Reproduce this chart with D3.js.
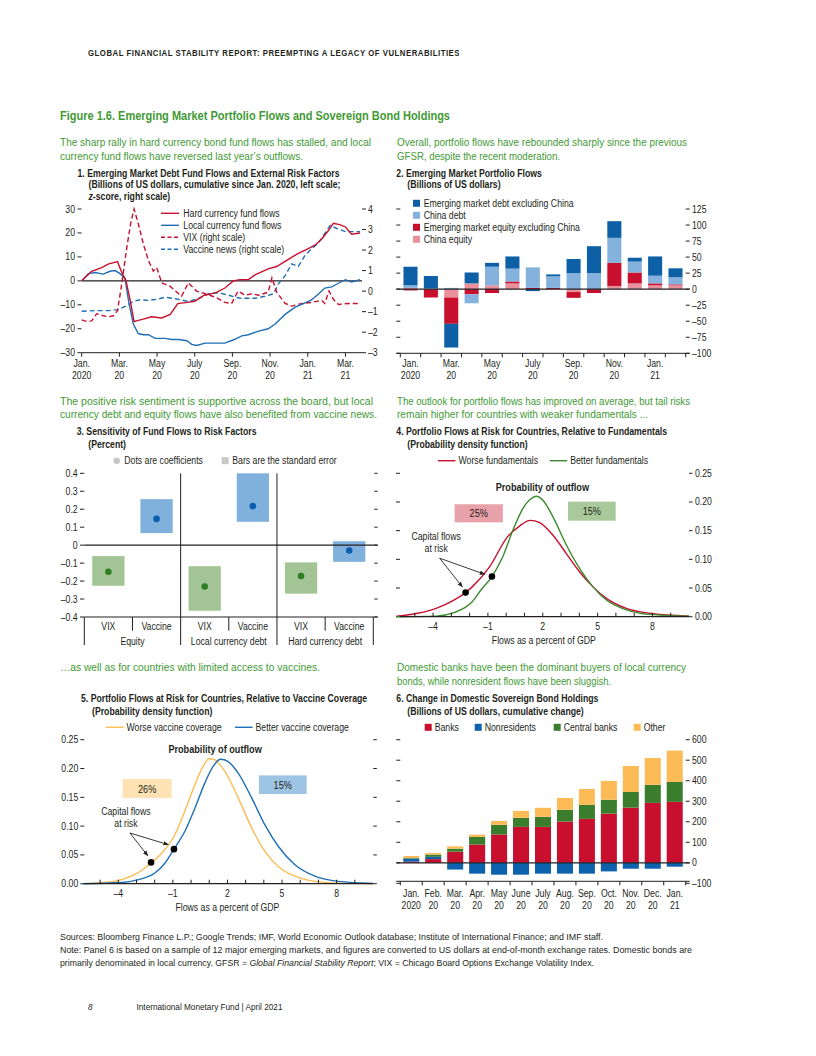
<!DOCTYPE html>
<html>
<head>
<meta charset="utf-8">
<script src="https://cdn.jsdelivr.net/npm/d3@7"></script>
<style>
  body { margin: 0; background: #fff; }
  svg text { font-family: "Liberation Sans", Arial, sans-serif; fill: #231f20; }
</style>
</head>
<body>
<svg id="page" width="816" height="1056"></svg>
<script>
// ---- panel 1: cumulative fund flows (months since Jan. 2020, value)
var hardCurrency = [[0,0],[0.53,4],[1.06,5.5],[1.4,7],[1.9,8],[2.1,4],[2.35,0],[2.57,-8],[2.78,-17],[3.0,-16.5],[3.27,-16],[3.7,-15],[4.25,-15.5],[4.7,-14],[5.1,-9.5],[5.6,-9],[6.0,-8.5],[6.5,-6],[7.1,-5],[7.6,-3],[8.05,0],[8.4,0.5],[8.85,0.5],[9.2,2.5],[9.9,5],[10.35,6],[10.97,9],[11.5,11.5],[12.03,13.5],[12.4,15],[12.74,17.5],[13.1,21],[13.36,24],[13.7,23.5],[14.0,22.5],[14.33,19.5],[14.78,20]];
var localCurrency = [[0,0],[0.35,3],[0.7,3.5],[1.15,2.8],[1.5,4],[1.77,4.3],[2.04,3],[2.3,1],[2.5,-9],[2.74,-18],[3.0,-22],[3.27,-22.5],[3.54,-22.5],[3.9,-24],[4.42,-24],[4.78,-24.5],[5.13,-24.5],[5.58,-25],[5.84,-26.5],[6.1,-27],[6.55,-26],[7.1,-26],[7.6,-26],[8.1,-24.5],[8.5,-23],[8.85,-22.5],[9.4,-21],[9.9,-20],[10.27,-18],[10.8,-14],[11.33,-11],[11.77,-9.5],[12.2,-8],[12.57,-5.5],[12.9,-3],[13.27,-2.5],[13.63,-1],[14.0,0.5],[14.33,-0.5],[14.78,0.5]];
var vixScore = [[0,-1.4],[0.27,-1.48],[0.53,-1.45],[0.8,-1.1],[1.15,-1.2],[1.42,-1.25],[1.68,-1.2],[1.9,-0.95],[2.1,0.2],[2.4,2.15],[2.6,3.3],[2.78,4.0],[3.0,3.3],[3.27,2.3],[3.54,1.5],[3.8,0.98],[3.98,1.15],[4.25,0.4],[4.7,0.23],[5.3,-0.25],[5.66,0.4],[6.1,0],[6.55,-0.13],[7.1,-0.3],[7.6,-0.55],[7.96,-0.6],[8.3,0],[8.67,-0.2],[9.03,-0.13],[9.4,-0.2],[9.9,-0.05],[10.1,0.65],[10.35,-0.05],[10.8,-0.6],[11.15,-0.73],[11.7,-0.6],[12.2,-0.55],[12.74,-0.45],[12.9,-0.6],[13.13,0],[13.36,-0.4],[13.63,-0.65],[14.16,-0.6],[14.78,-0.6]];
var vaccineNews = [[0,-0.98],[0.7,-0.95],[1.42,-0.95],[1.95,-0.9],[2.4,-0.7],[2.74,-0.5],[3.1,-0.42],[3.54,-0.45],[3.98,-0.4],[4.42,-0.3],[4.96,-0.37],[5.66,-0.5],[6.2,-0.37],[6.73,-0.13],[7.26,-0.08],[7.8,-0.2],[8.4,-0.35],[9.2,-0.35],[9.73,-0.25],[10.18,-0.13],[10.44,0.35],[10.8,0.75],[11.15,1.33],[11.5,1.2],[11.86,1.75],[12.2,2.05],[12.57,2.35],[12.9,2.8],[13.19,3.2],[13.54,3.05],[14.0,2.9],[14.78,2.9]];
var p1TickLabels = [['Jan.','2020'],['Mar.','20'],['May','20'],['July','20'],['Sep.','20'],['Nov.','20'],['Jan.','21'],['Mar.','21']];

// ---- panel 2: monthly portfolio flows, billions of US dollars
var p2Months = ['2020-01','2020-02','2020-03','2020-04','2020-05','2020-06','2020-07','2020-08','2020-09','2020-10','2020-11','2020-12','2021-01','2021-02'];
var emDebt      = [29, 19, -37, 17, 6, 19, -3, 3, 22, 42, 26, 6, 30, 14];
var chinaDebt   = [4, 1.5, 2, -14, 29, 20, 32, 18, 25, 25, 39, 17, 12, 11];
var emEquity    = [-2, -13, -41, -8, -6, 3, 2, 2, -9, -6, 36, 17, 3, 1.5];
var chinaEquity = [2, 0, -13, 9, 6, 9, 0, 0, -4.5, 0, 5, 9, 6, 6];
var p2TickLabels = [['Jan.','2020'],null,['Mar.','20'],null,['May','20'],null,['July','20'],null,['Sep.','20'],null,['Nov.','20'],null,['Jan.','21'],null];

// ---- panel 3: sensitivity coefficients and standard error bands
var p3Factors = ['VIX','Vaccine','VIX','Vaccine','VIX','Vaccine'];
var p3Groups  = ['Equity','Local currency debt','Hard currency debt'];
var p3Coef = [-0.148, 0.146, -0.23, 0.217, -0.172, -0.03];
var p3Low  = [-0.226, 0.067, -0.365, 0.13, -0.27, -0.093];
var p3High = [-0.061, 0.256, -0.117, 0.40, -0.096, 0.022];

// ---- panel 4 / 5: densities (flows in percent of GDP, density)
var worseFundamentals = [[-6,0.001],[-4.83,0.006],[-3.83,0.0145],[-2.86,0.029],[-2.22,0.042],[-1.86,0.052],[-0.91,0.087],[0.09,0.14],[0.73,0.158],[1.32,0.168],[1.83,0.164],[2.56,0.142],[3.29,0.11],[4.02,0.078],[4.75,0.052],[5.48,0.032],[6.57,0.0145],[7.85,0.006],[10,0.001]];
var betterFundamentals = [[-6,0],[-3.83,0.001],[-2.86,0.007],[-1.86,0.026],[-1.37,0.047],[-0.78,0.07],[-0.18,0.105],[0.37,0.151],[0.92,0.189],[1.37,0.206],[1.65,0.21],[2.01,0.203],[2.56,0.174],[3.29,0.125],[4.02,0.084],[4.75,0.052],[5.48,0.029],[6.57,0.012],[7.85,0.004],[10,0.001]];
var fundamentalsAtRisk = [[-2.22,0.042],[-0.78,0.07]];
var fundamentalsOutflow = ['25%','15%'];

var worseVaccine = [[-6,0],[-4.73,0.002],[-3.82,0.007],[-3.08,0.016],[-2.2,0.036],[-1.62,0.053],[-0.94,0.082],[-0.34,0.126],[0.21,0.172],[0.67,0.204],[0.98,0.217],[1.31,0.215],[1.86,0.195],[2.59,0.149],[3.33,0.097],[4.06,0.056],[4.79,0.03],[5.71,0.013],[6.81,0.004],[8.09,0.001],[10,0]];
var betterVaccine = [[-6,0],[-3.82,0.002],[-2.9,0.007],[-1.99,0.0185],[-1.45,0.035],[-0.94,0.06],[-0.34,0.091],[0.21,0.131],[0.76,0.175],[1.22,0.204],[1.62,0.216],[2.04,0.212],[2.59,0.192],[3.33,0.149],[4.06,0.102],[4.79,0.065],[5.71,0.033],[6.81,0.013],[8.09,0.004],[10,0.0006]];
var vaccineAtRisk = [[-2.2,0.037],[-0.94,0.06]];
var vaccineOutflow = ['26%','15%'];
var pdfTicks = [-4, -1, 2, 5, 8];

// ---- panel 6: cumulative change in holdings, billions of US dollars
var p6Months = ['2020-01','2020-02','2020-03','2020-04','2020-05','2020-06','2020-07','2020-08','2020-09','2020-10','2020-11','2020-12','2021-01'];
var banks        = [6, 18, 54, 89, 138, 175, 175, 201, 214, 240, 269, 292, 297];
var nonresidents = [15, 11, -33, -53, -58, -58, -53, -53, -53, -42, -29, -29, -19];
var centralBanks = [2, 11, 15, 37, 47, 44, 49, 57, 68, 67, 76, 88, 97];
var other        = [10, 8, 11, 11, 19, 34, 44, 58, 78, 92, 127, 131, 153];
var p6TickLabels = [['Jan.','2020'],['Feb.','20'],['Mar.','20'],['Apr.','20'],['May','20'],['June','20'],['July','20'],['Aug.','20'],['Sep.','20'],['Oct.','20'],['Nov.','20'],['Dec.','20'],['Jan.','21']];

var RED = '#c8102e', BLUE = '#1f6fb5', GREEN_TXT = '#3f9a35';
var COND = 0.87; // squeeze the sans font towards the condensed face of the original
var svg = d3.select('#page');
svg.append('rect').attr('width', 816).attr('height', 1056).attr('fill', '#fff');

function label(g, x, y, s, size, opts) {
    opts = opts || {};
    var t = g.append('text')
        .attr('x', x).attr('y', y)
        .attr('font-size', size)
        .attr('text-anchor', opts.anchor || 'start')
        .text(s);
    if (opts.bold) t.attr('font-weight', 'bold');
    if (opts.fill) t.style('fill', opts.fill);
    if (opts.len) t.attr('textLength', opts.len).attr('lengthAdjust', 'spacingAndGlyphs');
    if (opts.italic) t.attr('font-style', 'italic');
    return t;
}
function hline(g, x1, x2, y, color, w) {
    g.append('line').attr('x1', x1).attr('x2', x2).attr('y1', y).attr('y2', y)
        .attr('stroke', color || '#231f20').attr('stroke-width', w || 1);
}
function vline(g, x, y1, y2, color, w) {
    g.append('line').attr('x1', x).attr('x2', x).attr('y1', y1).attr('y2', y2)
        .attr('stroke', color || '#231f20').attr('stroke-width', w || 1);
}
function fmtMinus(v, digits) {
    var s = digits ? Math.abs(v).toFixed(digits) : String(Math.abs(v));
    return (v < 0 ? '\u2013' : '') + s;
}

svg.append('defs').append('marker')
    .attr('id', 'arrow').attr('viewBox', '0 0 10 10')
    .attr('refX', 9).attr('refY', 5)
    .attr('markerWidth', 6).attr('markerHeight', 6)
    .attr('orient', 'auto')
  .append('path').attr('d', 'M0,1 L10,5 L0,9 Z').attr('fill', '#231f20');

// ---- page header and text
label(svg, 88, 56, 'GLOBAL FINANCIAL STABILITY REPORT: PREEMPTING A LEGACY OF VULNERABILITIES', 9, { bold: true, len: 372 })
    .attr('letter-spacing', 0.6);
label(svg, 60, 119.5, 'Figure 1.6. Emerging Market Portfolio Flows and Sovereign Bond Holdings', 13.5, { bold: true, fill: GREEN_TXT, len: 390 });

var intro = [
    [60, 146, 'The sharp rally in hard currency bond fund flows has stalled, and local', 311],
    [60, 160, 'currency fund flows have reversed last year\u2019s outflows.', 243],
    [397, 146, 'Overall, portfolio flows have rebounded sharply since the previous', 290],
    [397, 160, 'GFSR, despite the recent moderation.', 163],
    [60, 405, 'The positive risk sentiment is supportive across the board, but local', 313],
    [60, 418, 'currency debt and equity flows have also benefited from vaccine news.', 317],
    [397, 405, 'The outlook for portfolio flows has improved on average, but tail risks', 293],
    [397, 418, 'remain higher for countries with weaker fundamentals ...', 251],
    [60, 671, '\u2026as well as for countries with limited access to vaccines.', 260],
    [397, 671, 'Domestic banks have been the dominant buyers of local currency', 289],
    [397, 685, 'bonds, while nonresident flows have been sluggish.', 214]
];
intro.forEach(function(d) { label(svg, d[0], d[1], d[2], 11, { fill: GREEN_TXT, len: d[3] }); });

// ================= Panel 1 =================
(function() {
    var g = svg.append('g');
    label(g, 77.5, 176.5, '1. Emerging Market Debt Fund Flows and External Risk Factors', 10, { bold: true });
    label(g, 88.5, 188, '(Billions of US dollars, cumulative since Jan. 2020, left scale;', 10, { bold: true });
    var t3 = label(g, 88.5, 199.5, '', 10, { bold: true });
    t3.append('tspan').attr('font-style', 'italic').text('z');
    t3.append('tspan').text('-score, right scale)');

    var x = d3.scaleLinear().domain([0, 14.88]).range([81.7, 362]);
    var yL = d3.scaleLinear().domain([-30, 30]).range([352.7, 209]);
    var yR = d3.scaleLinear().domain([-3, 4]).range([352.7, 209]);

    d3.range(-30, 31, 10).forEach(function(v) {
        hline(g, 77.5, 81.5, yL(v));
        label(g, 75, yL(v) + 3.5, fmtMinus(v), 10, { anchor: 'end' });
    });
    d3.range(-3, 5).forEach(function(v) {
        hline(g, 362, 366, yR(v));
        label(g, 368, yR(v) + 3.5, fmtMinus(v), 10);
    });
    hline(g, 81.7, 362, 352.7);
    p1TickLabels.forEach(function(l, i) {
        var xx = x(i * 2);
        vline(g, xx, 352.7, 356.7);
        label(g, xx, 366.5, l[0], 10, { anchor: 'middle' });
        label(g, xx, 378.5, l[1], 10, { anchor: 'middle' });
    });
    hline(g, 81.7, 362, yL(0), '#231f20', 1.2);

    var lineL = d3.line().x(function(d) { return x(d[0]); }).y(function(d) { return yL(d[1]); });
    var lineR = d3.line().x(function(d) { return x(d[0]); }).y(function(d) { return yR(d[1]); });
    var series = [
        { data: vaccineNews, line: lineR, color: BLUE, dash: '5,3' },
        { data: vixScore, line: lineR, color: RED, dash: '5,3' },
        { data: localCurrency, line: lineL, color: BLUE, dash: null },
        { data: hardCurrency, line: lineL, color: RED, dash: null }
    ];
    series.forEach(function(s) {
        g.append('path').attr('d', s.line(s.data))
            .attr('fill', 'none').attr('stroke', s.color).attr('stroke-width', 1.4)
            .attr('stroke-dasharray', s.dash);
    });

    var legend = [
        ['Hard currency fund flows', RED, null],
        ['Local currency fund flows', BLUE, null],
        ['VIX (right scale)', RED, '4,2.5'],
        ['Vaccine news (right scale)', BLUE, '4,2.5']
    ];
    legend.forEach(function(l, i) {
        var yy = 213.3 + i * 12;
        g.append('line').attr('x1', 161).attr('x2', 179).attr('y1', yy).attr('y2', yy)
            .attr('stroke', l[1]).attr('stroke-width', 1.4).attr('stroke-dasharray', l[2]);
        label(g, 183.3, yy + 3.5, l[0], 10);
    });
})();

// ================= Panel 2 =================
(function() {
    var g = svg.append('g');
    label(g, 396.3, 176.5, '2. Emerging Market Portfolio Flows', 10, { bold: true });
    label(g, 407.3, 188, '(Billions of US dollars)', 10, { bold: true });

    var x = d3.scaleBand().domain(p2Months).range([400.3, 685.7]).paddingInner(0.31).paddingOuter(0.155);
    var y = d3.scaleLinear().domain([-100, 125]).range([353.3, 209]);

    d3.range(-100, 126, 25).forEach(function(v) {
        hline(g, 396.3, 400.3, y(v));
        hline(g, 685.7, 689.7, y(v));
        label(g, 692, y(v) + 3.5, fmtMinus(v), 10);
    });

    var keys = ['chinaEquity', 'emEquity', 'chinaDebt', 'emDebt'];
    var colors = { chinaEquity: '#e8909c', emEquity: RED, chinaDebt: '#84b2dc', emDebt: '#0d5fa6' };
    var rows = p2Months.map(function(m, i) {
        return { month: m, emDebt: emDebt[i], chinaDebt: chinaDebt[i], emEquity: emEquity[i], chinaEquity: chinaEquity[i] };
    });
    var stack = d3.stack().keys(keys).offset(d3.stackOffsetDiverging)(rows);
    g.selectAll('g.layer').data(stack).enter().append('g')
        .attr('fill', function(d) { return colors[d.key]; })
      .selectAll('rect').data(function(d) { return d; }).enter().append('rect')
        .attr('x', function(d) { return x(d.data.month); })
        .attr('width', x.bandwidth())
        .attr('y', function(d) { return y(Math.max(d[0], d[1])); })
        .attr('height', function(d) { return Math.abs(y(d[0]) - y(d[1])); });

    hline(g, 396.3, 689.7, y(0), '#231f20', 1.2);
    hline(g, 396.3, 689.7, y(-100));
    var step = x.step();
    d3.range(0, p2Months.length + 1).forEach(function(i) {
        vline(g, 400.3 + i * step, y(-100), y(-100) + 4);
    });
    p2TickLabels.forEach(function(l, i) {
        if (!l) return;
        var xx = x(p2Months[i]) + x.bandwidth() / 2;
        label(g, xx, 366.5, l[0], 10, { anchor: 'middle' });
        label(g, xx, 378.5, l[1], 10, { anchor: 'middle' });
    });

    var legend = [
        ['Emerging market debt excluding China', colors.emDebt],
        ['China debt', colors.chinaDebt],
        ['Emerging market equity excluding China', colors.emEquity],
        ['China equity', colors.chinaEquity]
    ];
    legend.forEach(function(l, i) {
        var yy = 203.3 + i * 12;
        g.append('rect').attr('x', 413).attr('y', yy - 3.5).attr('width', 7).attr('height', 7).attr('fill', l[1]);
        label(g, 423.7, yy + 3.5, l[0], 10);
    });
})();

// ================= Panel 3 =================
(function() {
    var g = svg.append('g');
    label(g, 76.7, 435, '3. Sensitivity of Fund Flows to Risk Factors', 10, { bold: true });
    label(g, 88.3, 447.5, '(Percent)', 10, { bold: true });

    g.append('circle').attr('cx', 116.7).attr('cy', 460.7).attr('r', 3.3).attr('fill', '#c8c8c8');
    label(g, 124.3, 464.2, 'Dots are coefficients', 10);
    g.append('rect').attr('x', 221.7).attr('y', 457.2).attr('width', 7).attr('height', 7).attr('fill', '#c8c8c8');
    label(g, 232.3, 464.2, 'Bars are the standard error', 10);

    var idx = d3.range(p3Factors.length);
    var x = d3.scaleBand().domain(idx).range([84.3, 373.3]).paddingInner(0.33).paddingOuter(0.165);
    var y = d3.scaleLinear().domain([-0.4, 0.4]).range([617, 473.3]);
    var step = x.step();

    d3.range(-4, 5).forEach(function(k) {
        var v = k / 10;
        hline(g, 80, 84.3, y(v));
        hline(g, 374.3, 377.7, y(v));
        label(g, 77.7, y(v) + 3.5, k === 0 ? '0' : fmtMinus(v, 1), 10, { anchor: 'end' });
    });

    idx.forEach(function(i) {
        var isVix = p3Factors[i] === 'VIX';
        g.append('rect')
            .attr('x', x(i)).attr('width', x.bandwidth())
            .attr('y', y(p3High[i])).attr('height', y(p3Low[i]) - y(p3High[i]))
            .attr('fill', isVix ? '#a3c595' : '#80b1dc');
        g.append('circle')
            .attr('cx', x(i) + x.bandwidth() / 2).attr('cy', y(p3Coef[i])).attr('r', 3.3)
            .attr('fill', isVix ? '#2f7d25' : '#0b5fad');
        label(g, 84.3 + (i + 0.5) * step, 630.2, p3Factors[i], 10, { anchor: 'middle' });
    });
    p3Groups.forEach(function(name, j) {
        label(g, 84.3 + (j * 2 + 1) * step, 644.5, name, 10, { anchor: 'middle' });
    });

    hline(g, 84.3, 377.7, y(0), '#231f20', 1.2);
    hline(g, 84.3, 377.7, y(-0.4), '#231f20', 1.2);
    vline(g, 84.3, y(-0.4), 645);
    vline(g, 84.3 + 6 * step, y(-0.4), 645);
    vline(g, 84.3 + 2 * step, 473.3, 645);
    vline(g, 84.3 + 4 * step, 473.3, 645);
    [1, 3, 5].forEach(function(k) { vline(g, 84.3 + k * step, y(-0.4), 630.7); });
})();

// ================= Panels 4 and 5 =================
function densityPanel(cfg) {
    var g = svg.append('g');
    label(g, cfg.titleX, cfg.titleY, cfg.title, 10, { bold: true });
    label(g, cfg.titleX + 11, cfg.titleY + 12.5, '(Probability density function)', 10, { bold: true });

    var x = d3.scaleLinear().domain([-6, 10]).range(cfg.xRange);
    var y = d3.scaleLinear().domain([0, 0.25]).range(cfg.yRange);
    var left = cfg.axisLeft, right = cfg.axisRight;

    d3.range(0, 0.26, 0.05).forEach(function(v) {
        hline(g, left - 4, left, y(v));
        hline(g, right, right + 3.5, y(v));
        if (cfg.labelsLeft) label(g, left - 6, y(v) + 3.5, v.toFixed(2), 10, { anchor: 'end' });
        else label(g, right + 6, y(v) + 3.5, v.toFixed(2), 10);
    });

    // outflow boxes
    cfg.boxes.forEach(function(b) {
        g.append('rect')
            .attr('x', x(b.x0)).attr('width', x(b.x1) - x(b.x0))
            .attr('y', y(b.y1)).attr('height', y(b.y0) - y(b.y1))
            .attr('fill', b.fill);
        label(g, (x(b.x0) + x(b.x1)) / 2, (y(b.y0) + y(b.y1)) / 2 + 4, b.text, 10.5, { anchor: 'middle' });
    });
    label(g, x(cfg.probX), y(cfg.probY), 'Probability of outflow', 10.5, { bold: true, anchor: 'middle' });

    var line = d3.line().curve(d3.curveMonotoneX)
        .x(function(d) { return x(d[0]); }).y(function(d) { return y(d[1]); });
    cfg.curves.forEach(function(c) {
        g.append('path').attr('d', line(c.data))
            .attr('fill', 'none').attr('stroke', c.color).attr('stroke-width', 1.4);
    });

    hline(g, left, right, y(0), '#231f20', 1.2);
    d3.range(-5, 10).forEach(function(v) { vline(g, x(v), y(0) - 4, y(0)); });
    pdfTicks.forEach(function(v) {
        label(g, x(v), y(0) + 13.5, fmtMinus(v), 10, { anchor: 'middle' });
    });
    label(g, x(cfg.gdpX), y(0) + 27.5, 'Flows as a percent of GDP', 10, { anchor: 'middle' });

    // capital flows at risk annotation
    label(g, x(cfg.noteX), y(cfg.noteY), 'Capital flows', 10, { anchor: 'middle' });
    label(g, x(cfg.noteX), y(cfg.noteY) + 11.8, 'at risk', 10, { anchor: 'middle' });
    cfg.arrowEnds.forEach(function(e) {
        g.append('line')
            .attr('x1', x(cfg.arrowStart[0])).attr('y1', y(cfg.arrowStart[1]))
            .attr('x2', x(e[0])).attr('y2', y(e[1]))
            .attr('stroke', '#231f20').attr('stroke-width', 0.9)
            .attr('marker-end', 'url(#arrow)');
    });
    cfg.dots.forEach(function(d) {
        g.append('circle').attr('cx', x(d[0])).attr('cy', y(d[1])).attr('r', 3.3).attr('fill', '#000');
    });

    cfg.legend.forEach(function(l) {
        g.append('line').attr('x1', l.x).attr('x2', l.x + 17.5)
            .attr('y1', cfg.legendY).attr('y2', cfg.legendY)
            .attr('stroke', l.color).attr('stroke-width', 1.4);
        label(g, l.x + 20.5, cfg.legendY + 3.5, l.text, 10);
    });
}

densityPanel({
    title: '4. Portfolio Flows at Risk for Countries, Relative to Fundamentals',
    titleX: 396.3, titleY: 435,
    xRange: [396.5, 689], yRange: [616.7, 473.3],
    axisLeft: 400, axisRight: 689, labelsLeft: false,
    curves: [
        { data: worseFundamentals, color: RED },
        { data: betterFundamentals, color: '#3b8a2e' }
    ],
    dots: fundamentalsAtRisk,
    boxes: [
        { x0: -2.82, x1: -0.18, y0: 0.1645, y1: 0.196, fill: '#e8a1a9', text: fundamentalsOutflow[0] },
        { x0: 3.38, x1: 5.99, y0: 0.1674, y1: 0.2006, fill: '#aac99b', text: fundamentalsOutflow[1] }
    ],
    probX: 1.98, probY: 0.219,
    gdpX: 2.06,
    noteX: -3.83, noteY: 0.1335,
    arrowStart: [-3.64, 0.102],
    arrowEnds: [[-2.4, 0.052], [-1.18, 0.074]],
    legendY: 460.7,
    legend: [
        { x: 438, color: RED, text: 'Worse fundamentals' },
        { x: 549.7, color: '#3b8a2e', text: 'Better fundamentals' }
    ]
});

densityPanel({
    title: '5. Portfolio Flows at Risk for Countries, Relative to Vaccine Coverage',
    titleX: 81, titleY: 702,
    xRange: [81.9, 373], yRange: [883.7, 739.7],
    axisLeft: 84.3, axisRight: 373.3, labelsLeft: true,
    curves: [
        { data: worseVaccine, color: '#fbbd55' },
        { data: betterVaccine, color: BLUE }
    ],
    dots: vaccineAtRisk,
    boxes: [
        { x0: -3.76, x1: -1.07, y0: 0.1487, y1: 0.1817, fill: '#fde2b3', text: vaccineOutflow[0] },
        { x0: 3.73, x1: 6.35, y0: 0.1557, y1: 0.188, fill: '#9ec4e4', text: vaccineOutflow[1] }
    ],
    probX: 1.32, probY: 0.227,
    gdpX: 2.0,
    noteX: -3.58, noteY: 0.119,
    arrowStart: [-3.36, 0.088],
    arrowEnds: [[-2.38, 0.0486], [-1.25, 0.0677]],
    legendY: 727.3,
    legend: [
        { x: 106, color: '#fbbd55', text: 'Worse vaccine coverage' },
        { x: 235, color: BLUE, text: 'Better vaccine coverage' }
    ]
});

// ================= Panel 6 =================
(function() {
    var g = svg.append('g');
    label(g, 396.3, 702, '6. Change in Domestic Sovereign Bond Holdings', 10, { bold: true });
    label(g, 407.3, 714.5, '(Billions of US dollars, cumulative change)', 10, { bold: true });

    var x = d3.scaleBand().domain(p6Months).range([400.3, 685.7]).paddingInner(0.27).paddingOuter(0.135);
    var y = d3.scaleLinear().domain([-100, 600]).range([883.3, 739.7]);

    d3.range(-100, 601, 100).forEach(function(v) {
        hline(g, 396.3, 400.3, y(v));
        hline(g, 685.7, 689.7, y(v));
        label(g, 692, y(v) + 3.5, fmtMinus(v), 10);
    });

    var keys = ['banks', 'nonresidents', 'centralBanks', 'other'];
    var colors = { banks: RED, nonresidents: '#0d62ad', centralBanks: '#3a7d2c', other: '#fdbb57' };
    var rows = p6Months.map(function(m, i) {
        return { month: m, banks: banks[i], nonresidents: nonresidents[i], centralBanks: centralBanks[i], other: other[i] };
    });
    var stack = d3.stack().keys(keys).offset(d3.stackOffsetDiverging)(rows);
    g.selectAll('g.layer').data(stack).enter().append('g')
        .attr('fill', function(d) { return colors[d.key]; })
      .selectAll('rect').data(function(d) { return d; }).enter().append('rect')
        .attr('x', function(d) { return x(d.data.month); })
        .attr('width', x.bandwidth())
        .attr('y', function(d) { return y(Math.max(d[0], d[1])); })
        .attr('height', function(d) { return Math.abs(y(d[0]) - y(d[1])); });

    hline(g, 396.3, 689.7, y(0), '#231f20', 1.2);
    var base = y(-100) - 2;
    hline(g, 396.3, 689.7, base);
    var step = x.step();
    d3.range(0, p6Months.length + 1).forEach(function(i) { vline(g, 400.3 + i * step, base, base + 4); });
    p6TickLabels.forEach(function(l, i) {
        var xx = x(p6Months[i]) + x.bandwidth() / 2;
        label(g, xx, 897, l[0], 10, { anchor: 'middle' });
        label(g, xx, 909, l[1], 10, { anchor: 'middle' });
    });

    var legend = [
        ['Banks', colors.banks, 424.7],
        ['Nonresidents', colors.nonresidents, 474.7],
        ['Central banks', colors.centralBanks, 553.7],
        ['Other', colors.other, 633.7]
    ];
    legend.forEach(function(l) {
        g.append('rect').attr('x', l[2]).attr('y', 727.3 - 3.5).attr('width', 7).attr('height', 7).attr('fill', l[1]);
        label(g, l[2] + 10, 730.8, l[0], 10);
    });
})();

// ---- sources and footer
label(svg, 60, 939.5, 'Sources: Bloomberg Finance L.P.; Google Trends; IMF, World Economic Outlook database; Institute of International Finance; and IMF staff.', 9.2, { len: 543 });
label(svg, 60, 953, 'Note: Panel 6 is based on a sample of 12 major emerging markets, and figures are converted to US dollars at end-of-month exchange rates. Domestic bonds are', 9.2, { len: 632 });
var note2 = label(svg, 60, 966, '', 9.2, { len: 534 });
note2.append('tspan').text('primarily denominated in local currency. GFSR = ');
note2.append('tspan').attr('font-style', 'italic').text('Global Financial Stability Report');
note2.append('tspan').text('; VIX = Chicago Board Options Exchange Volatility Index.');

label(svg, 88, 1009.5, '8', 9.5, { italic: true });
label(svg, 136.5, 1009.5, 'International Monetary Fund | April 2021', 9.5, { len: 146 });

// condense every remaining label
svg.selectAll('text').each(function() {
    if (this.hasAttribute('textLength')) return;
    var w = this.getComputedTextLength();
    if (w > 0) d3.select(this).attr('textLength', w * COND).attr('lengthAdjust', 'spacingAndGlyphs');
});
</script>
</body>
</html>
